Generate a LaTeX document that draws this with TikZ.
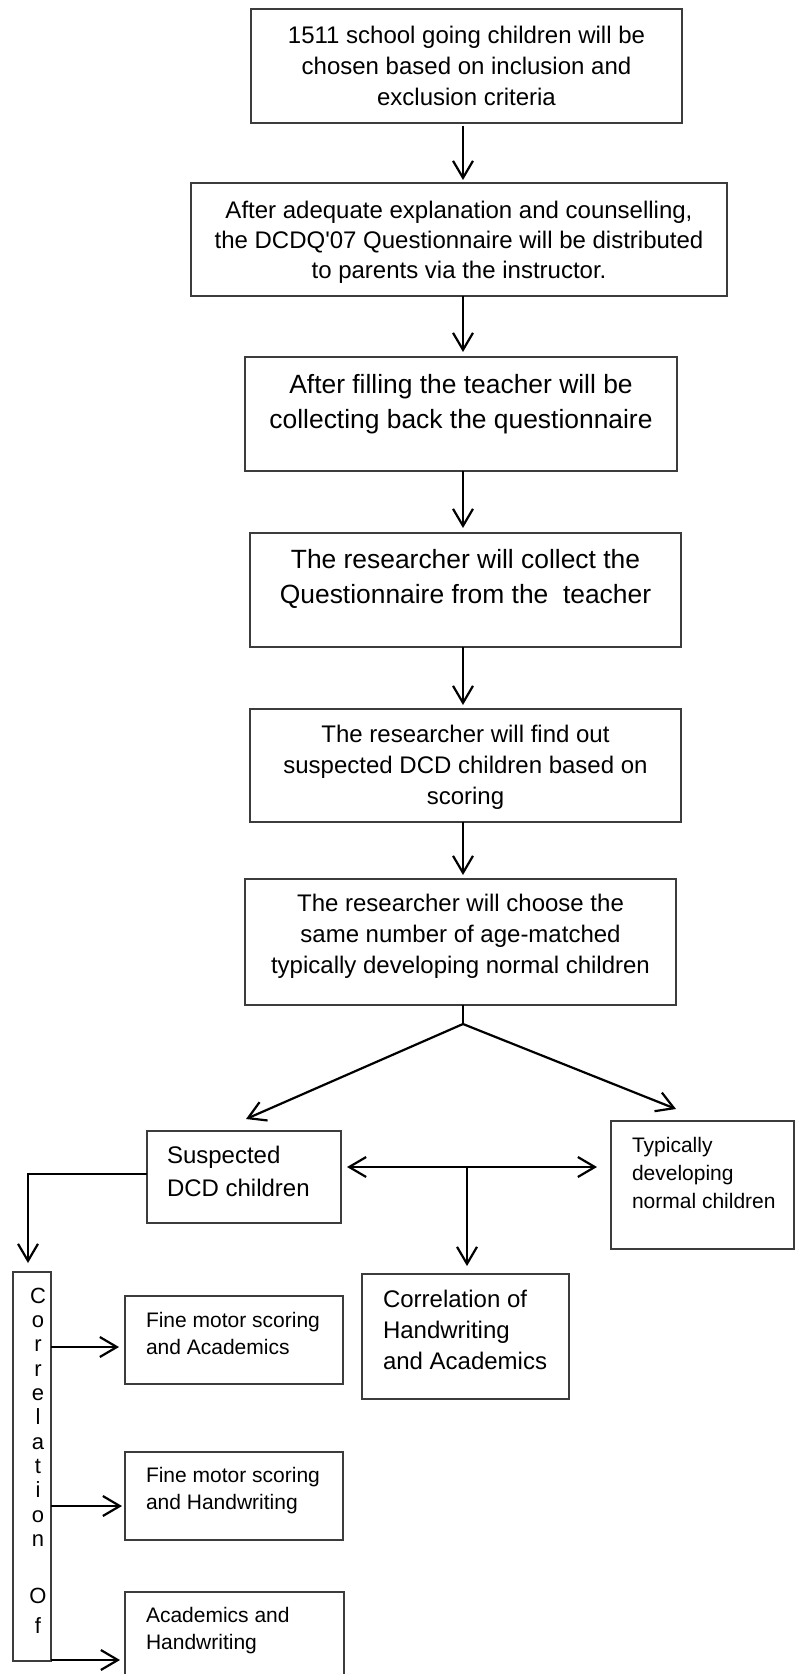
\documentclass[tikz,border=0pt]{standalone}
\usepackage{fontspec}
\setmainfont{Liberation Sans}
\usetikzlibrary{arrows.meta}
\definecolor{boxgray}{RGB}{60,60,60}
\begin{document}
\begin{tikzpicture}[x=0.5pt,y=-0.5pt,
  box/.style={draw=boxgray, line width=0.8pt, inner sep=0pt, outer sep=0pt, rectangle},
  txt/.style={inner sep=0pt, outer sep=0pt, align=center, anchor=north},
  ltxt/.style={inner sep=0pt, outer sep=0pt, align=left, anchor=north west},
  arr/.style={line width=1.1pt, -{Straight Barb[length=8.5pt,width=10pt]}},
  darr/.style={line width=1.1pt, {Straight Barb[length=8.5pt,width=10pt]}-{Straight Barb[length=8.5pt,width=10pt]}},
  plainline/.style={line width=1.1pt},
  fbig/.style={font=\fontsize{13.2pt}{17.5pt}\selectfont},
  fmid/.style={font=\fontsize{12pt}{15.5pt}\selectfont},
  fsmall/.style={font=\fontsize{10.5pt}{13.5pt}\selectfont}]

\useasboundingbox (0,0) rectangle (795,1674);
\clip (0,0) rectangle (795,1674);

% boxes of the main column
\node[box, minimum width=215.5pt, minimum height=57pt] (b1) at (466.5,66) {};
\node[box, minimum width=268pt, minimum height=56.5pt] (b2) at (459,239.5) {};
\node[box, minimum width=216pt, minimum height=57pt] (b3) at (461,414) {};
\node[box, minimum width=215.5pt, minimum height=57pt] (b4) at (465.5,590) {};
\node[box, minimum width=215.5pt, minimum height=56.5pt] (b5) at (465.5,765.5) {};
\node[box, minimum width=215.5pt, minimum height=63pt] (b6) at (460.5,942) {};

\node[txt, fmid] (t1) at (466.5,25.8) {1511 school going children will be\\chosen based on inclusion and\\exclusion criteria};
\node[txt, font=\fontsize{12pt}{15pt}\selectfont] (t2) at (459,200.8) {After adequate explanation and counselling,\\the DCDQ\textquotesingle 07 Questionnaire will be distributed\\to parents via the instructor.};
\node[txt, fbig] (t3) at (461,374.4) {After filling the teacher will be\\collecting back the questionnaire};
\node[txt, fbig] (t4) at (465.5,549.4) {The researcher will collect the\\Questionnaire from the\ \ teacher};
\node[txt, fmid] (t5) at (465.5,724.8) {The researcher will find out\\suspected DCD children based on\\scoring};
\node[txt, fmid] (t6) at (460.5,894) {The researcher will choose the\\same number of age-matched\\typically developing normal children};

% lower boxes
\node[box, minimum width=97pt, minimum height=46pt] (susp) at (244,1177) {};
\node[box, minimum width=91.5pt, minimum height=64pt] (typ) at (702.5,1185) {};
\node[box, minimum width=103.5pt, minimum height=62.5pt] (corr) at (465.5,1336.5) {};
\node[box, minimum width=19pt, minimum height=194.5pt] (vbox) at (32,1466.5) {};
\node[box, minimum width=109pt, minimum height=44pt] (fa) at (234,1340) {};
\node[box, minimum width=109pt, minimum height=44pt] (fh) at (234,1496) {};
\node[box, minimum width=109.5pt, minimum height=54pt] (ah) at (234.5,1646) {};

\node[ltxt, font=\fontsize{12pt}{16.5pt}\selectfont] (tsusp) at (167,1145.8) {Suspected\\DCD children};
\node[ltxt, font=\fontsize{10.5pt}{14pt}\selectfont] (ttyp) at (632,1137) {Typically\\developing\\normal children};
\node[ltxt, fmid] (tcorr) at (383,1290) {Correlation of\\Handwriting\\and Academics};
\node[ltxt, fsmall] (tfa) at (146,1312) {Fine motor scoring\\and Academics};
\node[ltxt, fsmall] (tfh) at (146,1467) {Fine motor scoring\\and Handwriting};
\node[ltxt, fsmall] (tah) at (146,1607) {Academics and\\Handwriting};
\node[txt, font=\fontsize{11pt}{12.15pt}\selectfont] (vt) at (38,1288) {C\\o\\r\\r\\e\\l\\a\\t\\i\\o\\n\\[16.3pt]O\\[2.8pt]f};

% main column arrows
\coordinate (ax) at (463,0);
\draw[arr, shorten <=1.5pt, shorten >=1.5pt] (b1.south -| ax) -- (b2.north -| ax);
\draw[arr, shorten >=2.5pt] (b2.south -| ax) -- (b3.north -| ax);
\draw[arr, shorten >=2.5pt] (b3.south -| ax) -- (b4.north -| ax);
\draw[arr, shorten >=2pt] (b4.south -| ax) -- (b5.north -| ax);
\draw[arr, shorten >=2pt] (b5.south -| ax) -- (b6.north -| ax);

% fork
\coordinate (j) at (463,1024);
\coordinate (fl) at (246,1119);
\coordinate (fr) at (676,1109);
\draw[plainline] (b6.south -| j) -- (j);
\draw[arr] (j) -- (fl);
\draw[arr] (j) -- (fr);

% double arrow and branch to correlation
\coordinate (dm) at (467,1167);
\draw[darr, shorten <=3pt, shorten >=7pt] (susp.east |- dm) -- (typ.west |- dm);
\draw[arr, shorten >=4pt] (dm) -- (corr.north -| dm);

% left branch
\coordinate (lc) at (28,1174);
\draw[arr, shorten >=4.5pt] (susp.west |- lc) -| (vbox.north -| lc);

% arrows from the vertical box
\coordinate (y1) at (0,1347);
\coordinate (y2) at (0,1506);
\coordinate (y3) at (0,1660);
\draw[arr, shorten >=3pt] (vbox.east |- y1) -- (fa.west |- y1);
\draw[arr, shorten >=1.5pt] (vbox.east |- y2) -- (fh.west |- y2);
\draw[arr, shorten >=2.5pt] (vbox.east |- y3) -- (ah.west |- y3);
\end{tikzpicture}
\end{document}
